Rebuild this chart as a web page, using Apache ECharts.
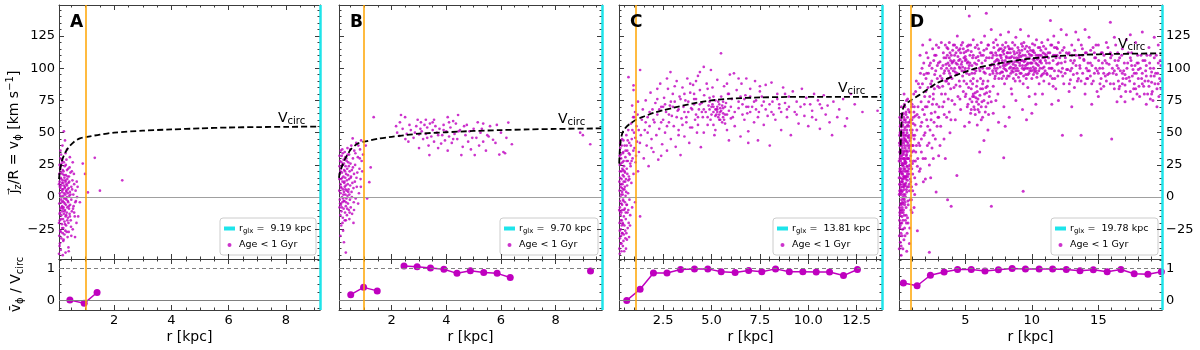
<!DOCTYPE html>
<html>
<head>
<meta charset="utf-8">
<script src="https://cdn.jsdelivr.net/npm/echarts@6/dist/echarts.min.js"></script>
<style>
  html, body { margin: 0; background: #fff; }
  #chart { width: 1200px; height: 350px; }
</style>
</head>
<body>
<div id="chart"></div>
<script>
// ---- stars younger than 1 Gyr: [r (kpc), jz/R (km/s)] ----
const starsA = [
  [0.08,-5],[0.09,12],[0.1,-18],[0.1,3],[0.11,22],[0.12,-9],[0.12,7],[0.13,-27],[0.13,15],[0.14,-2],[0.15,9],[0.15,-14],[0.16,26],[0.16,0],
  [0.17,-21],[0.17,11],[0.18,-7],[0.18,4],[0.19,18],[0.19,-11],[0.2,-3],[0.2,13],[0.21,-17],[0.21,6],[0.22,-24],[0.22,1],[0.23,20],[0.23,-8],
  [0.24,9],[0.24,-13],[0.25,3],[0.25,-1],[0.26,15],[0.26,-19],[0.27,-5],[0.27,24],[0.28,8],[0.28,-10],[0.29,2],[0.3,-15],[0.3,12],[0.31,-6],
  [0.31,17],[0.32,-22],[0.32,5],[0.33,-2],[0.33,10],[0.34,-12],[0.35,21],[0.35,0],[0.36,-8],[0.36,14],[0.37,6],[0.38,-16],[0.38,3],[0.39,-4],
  [0.4,11],[0.4,-20],[0.41,7],[0.42,-9],[0.42,16],[0.43,1],[0.44,-13],[0.45,4],[0.46,-6],[0.47,19],[0.48,-18],[0.5,8],[0.5,-2],[0.52,-11],
  [0.54,13],[0.55,-25],[0.57,2],[0.58,-7],[0.6,10],[0.62,-15],[0.65,5],[0.68,-20],[0.7,0],[0.72,8],
  [0.07,10],[0.08,-30],[0.09,25],[0.1,-36],[0.11,-12],[0.12,30],[0.13,-41],[0.14,19],[0.15,-32],[0.16,-8],[0.18,28],[0.2,-28],[0.22,-34],
  [0.24,27],[0.26,-29],[0.29,-26],[0.3,34],[0.33,29],[0.37,-31],[0.41,-27],[0.44,23],[0.49,-23],
  [0.24,51],[0.28,44],[2.28,13],[1.32,30.5],[1.5,5],[1.08,3.6],[0.9,26],[0.55,27],[0.63,-31],[0.4,-39],[0.41,-42],[0.07,-44],[0.74,-15],
  [0.8,-4],[0.98,18],[0.2,-45],[0.3,-43],[0.6,-12],[0.52,20],[0.66,-3],[0.45,31],[0.35,37],[0.19,40],[0.12,36],
  [0.07,-20],[0.08,18],[0.09,-13],[0.1,8],[0.11,-26],[0.12,1],[0.13,24],[0.14,-17],[0.15,14],[0.16,-4],[0.17,29],[0.18,-24],[0.19,6],
  [0.2,21],[0.21,-9],[0.22,11],[0.23,-33],[0.24,-4],[0.25,17],[0.26,-11],[0.27,7],[0.28,-21],[0.29,13],[0.3,-1],[0.31,25],[0.32,-14],
  [0.33,4],[0.34,-27],[0.35,9],[0.36,-18],[0.37,16],[0.38,-3],[0.39,22],[0.41,-7],[0.43,12],[0.45,-15],[0.47,2],[0.5,-30],[0.53,6],
  [0.56,-9],[0.59,18],[0.64,-4],[0.69,12],[0.09,-38],[0.14,33]
];
const starsB = [
  [0.08,5],[0.09,-8],[0.1,18],[0.1,-2],[0.11,28],[0.12,10],[0.12,-14],[0.13,3],[0.14,22],[0.14,-6],[0.15,14],[0.16,-11],[0.16,7],[0.17,32],
  [0.18,0],[0.18,19],[0.19,-4],[0.2,12],[0.2,25],[0.21,-16],[0.22,6],[0.22,-1],[0.23,16],[0.24,29],[0.24,-9],[0.25,4],[0.26,21],[0.26,11],
  [0.27,-3],[0.28,8],[0.28,35],[0.29,-12],[0.3,15],[0.3,2],[0.31,24],[0.32,-7],[0.32,9],[0.33,18],[0.34,-1],[0.34,30],[0.35,5],[0.36,13],
  [0.36,-14],[0.37,22],[0.38,1],[0.38,38],[0.39,10],[0.4,-5],[0.4,17],[0.41,27],[0.42,6],[0.43,-10],[0.44,14],[0.44,33],[0.45,2],[0.46,20],
  [0.47,-2],[0.48,9],[0.49,26],[0.5,-8],[0.5,15],[0.52,40],[0.53,4],[0.54,21],[0.55,-13],[0.56,11],[0.57,45.5],[0.58,30],[0.6,7],[0.61,-4],
  [0.62,18],[0.63,36],[0.65,12],[0.66,25],[0.68,-1],[0.7,42],[0.72,8],[0.74,19],[0.76,31],[0.78,40],[0.8,3],[0.82,22],[0.84,37],[0.86,14],
  [0.88,44],[0.9,28],[0.32,-18],[0.32,-43],[0.12,-30],[0.15,-22],[0.22,-26],[0.45,-17],[0.6,-20],[0.25,-35],[0.09,32],[0.19,37],
  [0.08,14],[0.09,24],[0.11,-5],[0.12,20],[0.13,36],[0.14,8],[0.16,27],[0.17,-8],[0.19,15],[0.2,-20],[0.21,34],[0.23,2],[0.24,-3],
  [0.25,26],[0.27,12],[0.28,-18],[0.29,20],[0.3,31],[0.31,6],[0.33,-4],[0.35,28],[0.37,-9],[0.39,33],[0.41,4],[0.43,24],[0.46,-12],
  [0.48,37],[0.51,16],[0.54,0],[0.58,23],[0.62,-10],[0.67,34],[0.71,15],[0.77,-5],[0.83,30],[0.87,8],[0.92,20],
  [1.34,62],[1.23,23],[1.18,11.6],[1.1,-1],[1.05,40],[0.95,33],
  [2.34,63.7],[2.49,62],[2.16,55],[2.28,47.5],[2.61,43],[3.0,48.6],[3.07,58],[3.38,32.6],[3.81,41.5],[4.43,63.7],[4.55,32.6],[5.04,32.6],
  [5.35,57],[5.35,43],[5.71,44.5],[5.94,33],[6.09,35],[6.27,57.8],[6.4,41],[8.9,50],[9.0,48],[9.27,41],
  [2.2,50],[2.4,53],[2.55,49],[2.7,52],[2.8,46],[2.9,55],[3.1,51],[3.15,45],[3.2,56],[3.25,49],[3.3,54],[3.35,40],[3.4,57],[3.45,47],
  [3.5,52],[3.55,43],[3.6,55],[3.65,50],[3.7,38],[3.75,53],[3.85,48],[3.9,56],[3.95,44],[4.0,51],[4.05,36],[4.1,47],[4.15,54],[4.2,42],
  [4.3,49],[4.35,57],[4.4,45],[4.5,52],[4.6,39],[4.65,55],[4.7,48],[4.8,43],[4.85,51],[4.9,37],[5.0,53],[5.1,46],[5.2,40],[5.25,50],
  [5.45,36],[5.5,48],[5.6,55],[5.8,42],[6.0,50],[6.15,34],[3.55,60],[3.0,38],[2.95,60],[4.25,59],[5.15,58],
  [2.3,58],[2.5,45],[2.65,56],[2.85,50],[3.05,53],[3.3,46],[3.5,58],[3.7,48],[3.9,52],[4.1,58],[4.25,45],[4.45,51],[4.75,56],[4.95,46],
  [5.3,53],[5.55,47],[5.85,56],[6.2,46],[4.05,62],[3.25,60]
];
const starsC = [
  [0.24,-40],[0.25,-20],[0.25,5],[0.26,25],[0.27,-32],[0.27,-8],[0.28,15],[0.29,38],[0.3,-14],[0.3,0],[0.31,-25],[0.32,10],[0.33,30],
  [0.34,-5],[0.35,-36],[0.35,20],[0.36,-18],[0.37,7],[0.38,45],[0.39,-10],[0.4,27],[0.4,-28],[0.41,2],[0.42,17],[0.43,-21],[0.44,35],
  [0.45,-3],[0.46,12],[0.47,-15],[0.48,24],[0.49,-42],[0.5,6],[0.51,40],[0.52,-9],[0.53,19],[0.54,-26],[0.55,31],[0.56,1],[0.57,-17],
  [0.58,14],[0.6,48],[0.61,-6],[0.62,22],[0.63,-33],[0.64,9],[0.65,36],[0.66,-12],[0.68,28],[0.69,3],[0.7,52],[0.72,-20],[0.73,16],
  [0.75,42],[0.76,-2],[0.78,33],[0.8,-14],[0.82,24],[0.84,57],[0.86,11],[0.88,45],[0.9,-8],[0.92,30],[0.95,62],[0.97,18],[1.0,50],
  [1.02,38],[1.05,-4],[1.08,27],[1.12,55],[1.15,43],[1.2,20],[1.25,35],[1.31,-15],[1.35,48],[1.4,60],
  [0.26,-44],[0.28,-11],[0.31,33],[0.33,-30],[0.36,-22],[0.38,4],[0.42,-38],[0.44,21],[0.47,-29],[0.52,8],[0.58,-40],[0.62,40],
  [0.67,-24],[0.7,13],[0.74,-31],[0.8,26],[0.71,93],[0.97,86.6],[0.97,83],[1.31,98.6],[1.05,66],[0.9,71],[1.2,74],[1.45,68],
  [0.23,-10],[0.24,12],[0.25,32],[0.26,-26],[0.27,20],[0.28,-3],[0.29,-36],[0.3,8],[0.31,-18],[0.32,26],[0.33,2],[0.34,-12],[0.35,14],
  [0.36,40],[0.37,-28],[0.38,-6],[0.39,22],[0.4,10],[0.41,-20],[0.42,34],[0.43,-2],[0.44,6],[0.45,-34],[0.46,28],[0.47,16],[0.48,-10],
  [0.5,-22],[0.51,20],[0.53,-4],[0.54,12],[0.56,36],[0.57,-12],[0.59,4],[0.61,28],[0.63,-6],[0.65,18],[0.67,44],[0.7,-10],[0.73,34],
  [0.76,14],[0.79,-22],[0.83,40],[0.87,28],[0.91,52],[0.96,36],[1.01,62],[1.06,46],[1.1,32],[1.18,64],[1.24,52],
  [0.55,-32],[0.45,44],[0.6,-28],[0.35,-42],[0.28,42],[1.3,42],[1.7,50],
  [1.5,30],[1.55,52],[1.6,75],[1.65,40],[1.7,62],[1.75,24],[1.8,55],[1.85,81],[1.9,45],[1.95,68],[2.0,35],[2.05,58],[2.1,73],[2.15,48],
  [2.2,64],[2.25,29],[2.3,53],[2.35,88],[2.4,70],[2.45,41],[2.5,60],
  [2.55,77],[2.6,50],[2.65,66],[2.7,36],[2.75,84],[2.8,58],[2.85,71],[2.88,97],[2.9,45],[2.95,63],[3.0,80],[3.05,55],[3.1,74],[3.15,39],
  [3.2,90],[3.25,67],[3.3,52],[3.35,78],[3.4,32.6],[3.45,61],[3.5,85],[3.55,70],[3.6,47],[3.65,75],[3.7,58],[3.75,92],[3.8,66],[3.85,42],
  [3.9,81],[3.95,69],[4.0,54],
  [4.05,87],[4.1,72],[4.1,80],[4.15,60],[4.2,76],[4.25,50],[4.3,94],[4.35,68],[4.4,83],[4.45,38.7],[4.5,73],[4.55,62],[4.6,101],[4.62,79],
  [4.7,66],[4.75,88],[4.8,56],[4.85,71],[4.9,77],[4.97,98.6],[5.0,64],[5.05,85],[5.1,70],[5.15,48],[5.2,75],[5.25,68],[5.3,91],[5.35,62],
  [5.4,72],[5.45,66],[5.49,111.5],[5.5,78],[5.55,58],[5.6,69],[5.65,86],[5.7,64],[5.75,73],[5.8,52],[5.85,80],[5.9,67],[5.95,95],[6.0,61],
  [5.1,66],[5.2,63],[5.3,70],[5.4,64],[5.5,67],[5.6,62],[5.3,68],[5.45,60],[4.9,68],[5.05,72],
  [6.05,76],[6.16,96],[6.2,55],[6.3,83],[6.4,69],[6.5,47],[6.55,88],[6.6,72],[6.7,60],[6.75,79],[6.8,92],[6.85,65],[6.9,51],[7.0,84],
  [7.1,70],[7.2,58],[7.25,90],[7.3,75],[7.4,44],[7.45,66],[7.5,82],[7.6,71],[7.7,56],[7.8,87],[7.9,63],[8.01,40],[8.1,88.8],[8.15,74],
  [8.3,60],[8.4,80],[8.5,69],[8.6,52],[8.7,85],[8.8,73],[8.9,62],[9.0,78],[9.1,48],[9.2,82],[9.3,66],[9.4,74],[9.5,57],[9.6,70],[9.67,84],
  [9.8,63],[9.9,77],[10.0,55],[10.1,72],[10.2,67],[10.3,80],[10.4,60],[10.5,75],[10.6,53],[10.7,69],[10.8,79],[10.9,64],[11.0,71],
  [11.1,58],[11.23,48],[11.3,74],[11.5,62],[11.6,68],[11.8,76],[12.0,61],[12.4,72],[12.8,66],[13.58,67],[12.2,80],[11.9,55],
  [1.6,58],[1.8,66],[2.0,60],[2.2,76],[2.4,58],[2.6,72],[2.8,64],[3.0,70],[3.2,62],[3.4,76],[3.6,66],[3.8,74],[4.0,68],[4.2,64],[4.4,72],
  [4.6,68],[4.8,62],[5.0,70],[5.2,68],[5.4,60],[5.6,74],[5.8,64],[6.0,70],[6.2,66],[6.4,74],[6.6,64],[6.8,70],[7.0,66],[7.2,74],[7.4,62],
  [7.6,78],[7.8,68],[8.0,72],[8.2,64],[8.4,76],[8.6,66],[8.8,80],[9.0,70],[9.4,64],[9.8,72],[10.2,62],[10.6,72],[3.1,86],[3.6,80],
  [4.2,90],[4.8,84],[5.8,88],[6.4,92],[7.0,78],[2.2,84],[2.7,92],[3.3,48],[4.6,50],[5.9,44],[6.9,42],[1.9,38],[2.4,32],[3.9,54],[4.3,56],
  [5.1,56],[5.7,57],[5.2,52],[4.95,60],[5.35,74],[5.55,71],[5.6,65],[5.25,64],[5.45,69],[5.65,60],
  [2.5,70],[2.9,74],[3.3,68],[3.7,62],[4.1,76],[4.5,66],[4.9,74],[5.3,66],[5.7,70],[6.1,62],[6.5,78],[6.9,70],[7.3,68],[7.7,74],[8.1,66],
  [8.5,72],[8.9,68],[3.5,56],[4.3,62],[5.1,78],[5.9,80],[6.7,76],[7.5,86],[3.9,88],[4.4,97],[2.7,55],[2.3,68]
];
const starsD = [
  [0.05,-30],[0.06,10],[0.07,35],[0.08,-12],[0.09,22],[0.1,50],[0.1,3],[0.11,-22],[0.12,15],[0.13,40],[0.14,-5],[0.15,28],[0.16,60],
  [0.17,8],[0.18,-38],[0.19,19],[0.2,45],[0.21,-2],[0.22,32],[0.23,12],[0.24,-15],[0.25,55],[0.26,25],[0.27,5],[0.28,38],[0.29,-25],
  [0.3,18],[0.31,48],[0.32,0],[0.33,30],[0.34,65],[0.35,10],[0.36,-10],[0.37,42],[0.38,22],[0.39,-33],[0.4,6],[0.41,35],[0.42,52],
  [0.43,15],[0.44,-6],[0.45,28],[0.46,70],[0.47,2],[0.48,45],[0.49,20],[0.5,-18],[0.51,36],[0.52,58],[0.53,11],[0.54,27],[0.55,-8],
  [0.56,48],[0.57,16],[0.58,75],[0.59,33],[0.6,4],[0.61,55],[0.62,24],[0.63,-28],[0.64,40],[0.65,13],[0.66,62],[0.67,30],[0.68,-3],
  [0.69,47],[0.7,20],[0.72,68],[0.74,8],[0.76,38],[0.78,55],[0.8,-36],[0.82,25],[0.84,44],[0.86,14],[0.88,60],[0.9,32],[0.92,-10],
  [0.95,50],[0.98,22],[1.0,72],[1.02,40],[1.05,5],[1.08,57],[1.1,28],[1.13,80],[1.16,45],[1.2,15],[1.24,63],[1.28,35],[1.32,90],
  [1.36,52],[1.4,24],[1.45,70],[1.5,42],
  [0.04,-40],[0.08,62],[0.12,-35],[0.15,5],[0.2,70],[0.23,-20],[0.27,50],[0.3,-5],[0.33,14],[0.36,33],[0.4,80],[0.44,-24],[0.48,9],
  [0.52,26],[0.56,-14],[0.6,43],[0.64,18],[0.7,-20],[0.75,30],[0.8,5],[0.85,66],[0.9,12],[0.95,-2],[1.0,35],[1.05,18],[1.1,62],
  [1.15,-8],[1.2,48],[1.25,28],[1.3,10],[0.18,-45],[0.6,-42],[0.25,-30],
  [0.03,15],[0.05,42],[0.06,-18],[0.07,5],[0.09,30],[0.11,55],[0.13,-10],[0.14,20],[0.16,36],[0.17,-28],[0.19,2],[0.21,64],[0.22,18],
  [0.24,40],[0.26,-8],[0.28,12],[0.29,58],[0.31,26],[0.32,-18],[0.34,44],[0.35,-1],[0.37,16],[0.38,62],[0.39,8],[0.41,-14],[0.42,30],
  [0.43,72],[0.45,48],[0.46,-4],[0.47,22],[0.49,38],[0.5,60],[0.51,0],[0.53,44],[0.54,14],[0.55,66],[0.57,32],[0.58,-20],[0.6,20],
  [0.62,50],[0.63,8],[0.65,35],[0.67,76],[0.68,16],[0.7,42],[0.71,-6],[0.73,58],[0.75,22],[0.77,48],[0.79,10],[0.81,66],[0.83,36],
  [0.85,-2],[0.87,52],[0.89,24],[0.91,74],[0.93,40],[0.96,8],[0.99,60],[1.03,26],[1.07,48],[1.12,36],[1.17,70],[1.22,56],[1.27,82],
  [1.33,40],[1.38,64],[1.43,30],[1.48,88],[0.08,-24],[0.2,-12],[0.31,-40],[0.47,-30],[0.66,-16],[0.83,-24],[1.0,-12],[1.2,2],[1.4,-26],
  [0.03,28],[0.04,2],[0.06,48],[0.07,-8],[0.08,20],[0.09,40],[0.1,-14],[0.11,10],[0.12,32],[0.13,56],[0.14,6],[0.15,-20],[0.16,22],
  [0.17,44],[0.18,12],[0.19,-6],[0.2,30],[0.21,52],[0.22,-10],[0.23,26],[0.24,4],[0.25,42],[0.26,14],[0.27,64],[0.28,-4],[0.29,34],
  [0.3,8],[0.31,56],[0.32,20],[0.33,-12],[0.34,36],[0.35,24],[0.36,50],[0.37,2],[0.38,30],[0.39,46],[0.4,16],[0.41,60],[0.42,-2],
  [0.43,26],[0.44,40],[0.45,10],[0.46,54],[0.48,28],[0.5,44],[0.52,16],[0.54,64],[0.56,30],[0.58,6],[0.6,52],[0.62,36],[0.65,24],
  [0.68,56],[0.71,30],[0.74,46],[0.77,18],[0.8,40],[0.84,58],[0.88,28],[0.92,46],[0.97,70],[1.02,52],[1.08,40],[1.14,66],
  [1.55,20],[1.6,85],[1.65,55],[1.7,35],[1.75,100],[1.8,68],[1.85,12],[1.9,48],[1.95,78],[2.0,30],[2.05,92],[2.1,60],[2.15,40],
  [2.2,108],[2.25,74],[2.3,-42.7],[2.3,25],[2.35,52],[2.4,88],[2.45,65],[2.5,38],[2.55,115],[2.6,80],[2.65,58],[2.7,95],[2.75,45],
  [2.81,4],[2.85,72],[2.9,102],[2.95,62],[3.0,32],[1.6,110],[1.9,95],[2.2,85],[2.5,100],[2.8,110],[1.7,45],[2.0,70],[2.4,15],
  [1.52,62],[1.58,40],[1.63,96],[1.68,74],[1.73,58],[1.78,88],[1.83,30],[1.88,104],[1.93,64],[1.98,50],[2.03,82],[2.08,112],[2.13,70],
  [2.18,55],[2.23,96],[2.28,42],[2.33,78],[2.38,104],[2.43,60],[2.48,90],[2.53,72],[2.58,48],[2.63,106],[2.68,84],[2.73,66],[2.78,98],
  [2.83,118],[2.88,55],[2.93,86],[2.98,104],[3.03,70],[3.12,94],[3.22,80],[3.32,102],[3.42,64],[3.52,90],[3.62,116],[3.72,76],[3.82,96],
  [3.92,60],[1.62,22],[2.0,14],[2.6,30],[3.1,40],[3.5,30],[1.8,118],[2.35,122],
  [3.05,85],[3.1,105],[3.15,55],[3.2,120],[3.25,92],[3.3,70],[3.35,112],[3.4,45],[3.45,98],[3.5,80],[3.55,108],[3.6,62],[3.67,-2.1],
  [3.7,115],[3.75,88],[3.8,102],[3.85,50],[3.94,-7],[3.9,94],[3.95,110],[4.0,75],[4.05,105],[4.1,118],[4.15,85],[4.2,100],[4.25,60],
  [4.3,112],[4.37,16.8],[4.35,95],[4.4,125],[4.45,78],[4.5,106],[4.55,90],[4.6,115],[4.65,68],[4.7,103],[4.75,98],[4.8,120],[4.85,82],
  [4.9,108],[4.95,55],[5.0,100],[5.05,113],[5.1,88],[5.15,104],[5.2,72],[5.25,118],[5.3,140.5],[5.3,95],[5.35,110],[5.4,65],[5.45,84],
  [5.5,102],[5.55,78],[5.6,122],[5.65,70],[5.7,96],[5.75,81],[5.8,108],[5.85,74],[5.9,90],[5.95,68],[6.0,115],
  [3.6,100],[3.8,108],[4.0,104],[4.2,110],[4.4,103],[4.6,107],[4.8,101],[5.0,109],[5.2,105],[3.4,96],[3.7,92],
  [3.55,103],[3.65,110],[3.75,98],[3.85,112],[3.95,100],[4.05,114],[4.15,106],[4.25,97],[4.35,116],[4.45,109],[4.55,101],[4.65,112],
  [4.75,105],[4.85,115],[4.95,98],[5.05,107],[5.15,117],[5.25,100],[5.35,104],[5.45,113],[5.55,108],[5.65,99],[5.75,116],[5.85,103],
  [5.95,109],[4.3,87],[4.9,90],[3.9,84],[5.6,92],[4.6,76],
  [2.1,96],[2.3,102],[2.5,86],[2.7,110],[2.9,92],[3.0,116],[3.2,100],[3.3,86],[3.4,108],[3.5,118],[3.6,90],[3.7,104],[3.8,120],[3.9,106],
  [4.0,92],[4.1,98],[4.2,118],[4.3,104],[4.4,96],[4.5,114],[4.6,100],[4.7,118],[4.8,94],[4.9,112],[5.0,106],[5.1,96],[5.2,114],[5.3,102],
  [5.4,118],[5.5,96],[5.6,110],[5.7,104],[5.8,98],[5.9,118],[6.0,106],[6.1,98],[6.2,110],[6.3,100],[6.4,114],[6.5,96],[6.6,108],
  [6.7,118],[6.8,100],[6.9,112],[2.6,76],[3.0,62],[3.4,74],[3.8,66],[4.2,72],[4.6,86],[5.0,78],[5.4,90],
  [5.5,74],[5.6,80],[5.7,68],[5.8,77],[5.9,82],[6.0,72],[6.1,79],[6.2,70],[6.3,84],[6.4,75],[6.5,66],[6.6,81],[6.7,73],[6.8,78],[6.08,35],
  [5.05,80],[5.15,70],[5.25,85],[5.35,76],[5.45,68],[5.55,88],[5.65,78],[5.75,64],[5.85,86],[5.95,76],[6.05,66],[6.15,84],[6.25,74],
  [6.35,90],[6.45,80],[6.55,70],[6.65,86],[6.75,64],[6.85,82],[6.95,74],[5.3,58],[5.9,56],[6.3,62],
  [6.05,100],[6.1,112],[6.15,92],[6.2,120],[6.25,104],[6.3,88],[6.35,110],[6.4,97],[6.45,125],[6.5,106],[6.55,85],[6.6,115],[6.65,100],
  [6.7,90],[6.75,118],[6.8,108],[6.85,95],[6.9,102],[6.96,-7],[6.95,130],[7.0,112],[7.05,98],[7.1,86],[7.15,116],[7.2,105],[7.25,94],
  [7.3,122],[7.35,110],[7.4,100],[7.45,80],[7.5,114],[7.55,104],[7.6,96],[7.65,126],[7.7,108],[7.75,92],[7.8,118],[7.85,102],[7.89,30.6],
  [7.9,111],[7.95,88],[8.0,106],[8.05,120],[8.1,98],[8.15,112],[8.2,104],[8.25,128],[8.3,94],[8.35,115],[8.4,101],[8.45,84],[8.5,109],
  [8.55,120],[8.6,97],[8.65,113],[8.7,105],[8.75,90],[8.8,124],[8.85,108],[8.9,100],[8.95,116],[9.0,93],[9.05,110],[9.1,102],[9.15,130],
  [9.2,96],[9.25,114],[9.3,106],[9.35,4.6],[9.35,88],[9.4,120],[9.45,100],[9.5,110],[9.55,95],[9.6,117],[9.65,103],[9.7,85],[9.75,125],
  [9.8,108],[9.85,98],[9.9,114],[9.95,104],[10.0,92],[10.05,119],[10.1,107],[10.15,99],[10.2,112],[10.25,80],[10.3,104],[10.35,122],
  [10.4,96],[10.45,110],[10.5,102],[10.55,88],[10.6,116],[10.65,106],[10.7,94],[10.75,120],[10.8,100],[10.85,112],[10.9,90],[10.95,108],
  [11.0,98],
  [7.2,100],[7.6,110],[8.0,102],[8.4,108],[8.8,98],[9.2,106],[9.6,100],[10.0,110],[10.4,103],[7.4,107],[7.8,97],[8.2,112],[8.6,103],
  [9.0,108],[9.4,99],[9.8,111],[10.2,97],[10.6,105],[8.1,92],[9.1,90],[8.3,115],[9.3,117],[7.0,103],[7.9,114],[8.7,111],[9.7,95],[10.1,101],
  [7.02,108],[7.08,96],[7.12,120],[7.18,102],[7.22,92],[7.28,112],[7.32,106],[7.38,96],[7.42,118],[7.48,103],[7.52,92],[7.58,115],
  [7.62,101],[7.68,110],[7.72,97],[7.78,106],[7.82,113],[7.88,94],[7.92,104],[7.98,116],[8.02,99],[8.08,109],[8.12,103],[8.18,94],
  [8.22,117],[8.28,108],[8.32,100],[8.38,112],[8.42,96],[8.48,105],[8.52,115],[8.58,100],[8.62,92],[8.68,108],[8.72,118],[8.78,102],
  [8.82,95],[8.88,112],[8.92,105],[8.98,98],[9.02,114],[9.08,104],[9.12,96],[9.18,109],[9.22,119],[9.28,100],[9.32,110],[9.38,94],
  [9.42,105],[9.48,115],[9.52,102],[9.58,92],[9.62,108],[9.68,113],[9.72,100],[9.78,96],[9.82,116],[9.88,104],[9.92,110],[9.98,98],
  [10.02,104],[10.08,113],[10.12,95],[10.18,106],[10.22,118],[10.28,100],[10.32,110],[10.38,93],[10.42,107],[10.48,116],[10.52,98],
  [10.58,110],[10.62,100],[10.68,114],[10.72,104],[10.78,95],[10.82,108],[10.88,117],[10.92,101],[10.98,111],
  [7.1,110],[7.3,98],[7.5,106],[7.7,115],[7.9,100],[8.1,108],[8.3,104],[8.5,98],[8.7,100],[8.9,106],[9.1,112],[9.3,102],[9.5,106],
  [9.7,104],[9.9,100],[10.1,114],[10.3,98],[10.5,108],[10.7,110],[10.9,96],
  [6.2,60],[6.7,52],[7.1,65],[7.5,58],[7.9,70],[8.3,62],[8.8,75],[9.3,68],[9.8,78],[10.3,72],[10.8,80],[6.4,44],[8.0,55],[9.6,60],
  [7.3,75],[8.5,80],[10.0,65],
  [11.05,115],[11.1,104],[11.15,95],[11.2,122],[11.25,108],[11.3,88],[11.35,112],[11.4,137],[11.45,100],[11.5,118],[11.55,92],[11.6,106],
  [11.65,125],[11.7,98],[11.75,110],[11.8,84],[11.85,116],[11.9,103],[11.95,94],[12.0,120],[12.1,108],[12.2,97],[12.3,48],[12.3,114],
  [12.4,88],[12.5,105],[12.6,126],[12.7,99],[12.8,112],[12.9,91],[13.0,118],[13.1,104],[13.2,85],[13.3,110],[13.4,96],[13.5,122],
  [13.6,102],[13.7,48],[13.7,90],[13.8,115],[13.9,107],[14.0,80],[14.1,112],[14.2,98],[14.3,124],[14.4,104],[14.5,88],[14.6,116],
  [14.7,96],[14.8,108],[14.9,82],[15.0,118],[15.1,100],[15.2,92],[15.3,112],[15.4,86],[15.5,106],[15.6,120],[15.7,95],[15.8,103],
  [15.9,135.6],[15.9,88],
  [11.3,100],[11.9,110],[12.5,96],[13.0,100],[13.6,108],[14.2,92],[14.8,100],[15.4,96],[12.2,130],[13.3,128],[14.0,130],[12.0,75],
  [13.0,70],[14.5,72],[15.0,78],[11.5,72],
  [11.02,106],[11.12,96],[11.22,112],[11.32,104],[11.42,118],[11.52,100],[11.62,110],[11.72,92],[11.82,108],[11.92,115],[12.02,98],
  [12.12,112],[12.22,104],[12.32,94],[12.42,116],[12.52,108],[12.62,99],[12.72,111],[12.82,88],[12.92,106],[13.02,110],[13.12,95],
  [13.22,114],[13.32,102],[13.42,90],[13.52,110],[13.62,100],[13.72,118],[13.82,96],[13.92,106],[14.02,112],[14.12,92],[14.22,104],
  [14.32,98],[14.42,114],[14.52,102],[14.62,90],[14.72,108],[14.82,118],[14.92,98],[15.02,106],[15.12,88],[15.22,112],[15.32,100],
  [15.42,110],[15.52,94],[15.62,104],[15.72,116],[15.82,96],[15.92,108],
  [11.1,110],[11.4,94],[11.7,116],[12.0,104],[12.3,100],[12.6,112],[12.9,98],[13.2,106],[13.5,92],[13.8,110],[14.1,100],[14.4,94],
  [14.7,112],[15.0,96],[15.3,104],[15.6,90],[15.9,112],[11.6,86],[12.8,82],[14.0,88],[15.2,84],
  [16.0,45],[16.0,110],[16.1,96],[16.2,84],[16.3,118],[16.4,102],[16.5,90],[16.6,108],[16.7,78],[16.8,115],[16.9,98],[17.0,87],[17.1,122],
  [17.2,104],[17.3,93],[17.4,82],[17.5,112],[17.6,99],[17.7,88],[17.8,120],[17.9,104],[18.0,92],[18.1,78],[18.2,110],[18.3,128],[18.3,96],
  [18.4,86],[18.5,106],[18.6,94],[18.7,80],[18.8,116],[18.9,100],[19.0,89],[19.1,75],[19.2,108],[19.3,96],[19.4,84],[19.5,118],[19.6,92],
  [19.7,102],
  [16.5,100],[17.0,95],[17.5,102],[18.0,99],[18.5,90],[19.0,97],[19.5,88],[16.8,88],[17.8,84],[18.8,86],[16.2,124],[17.4,126],[19.2,124],
  [18.9,76],[17.0,74],[6.58,142.6],
  [16.05,100],[16.15,88],[16.25,106],[16.35,95],[16.45,112],[16.55,84],[16.65,98],[16.75,110],[16.85,92],[16.95,104],[17.05,82],
  [17.15,100],[17.25,112],[17.35,90],[17.45,106],[17.55,94],[17.65,84],[17.75,102],[17.85,96],[17.95,110],[18.05,86],[18.15,100],
  [18.25,92],[18.35,106],[18.45,80],[18.55,98],[18.65,110],[18.75,90],[18.85,104],[18.95,94],[19.05,82],[19.15,100],[19.25,88],
  [19.35,110],[19.45,96],[19.55,78],[19.65,106],[19.72,90],[17.6,76],[18.6,72],[19.4,70],[16.4,74],
  [16.2,98],[16.5,106],[16.8,96],[17.1,92],[17.4,108],[17.7,96],[18.0,104],[18.3,88],[18.6,102],[18.9,110],[19.2,94],[19.5,104],
  [19.7,84],[16.6,86],[17.9,80],[19.0,80]
];

// ---- circular velocity curves: [r, Vcirc] ----
const vcircA = [[0.07,14],[0.1,20],[0.15,26],[0.2,30],[0.3,35],[0.4,38.5],[0.6,43],[0.8,45.5],[1,46.5],[1.5,48.5],[2,50],[3,51.5],[4,52.5],[5,53.3],[6,54],[7,54.3],[8,54.5],[9.19,54.7]];
const vcircB = [[0.07,15],[0.1,19],[0.2,25],[0.3,30],[0.4,33.5],[0.5,37],[0.75,41.5],[1,43],[1.5,45.3],[2,46.8],[3,49.2],[4,50.3],[5,51.3],[6,52],[7,52.5],[8,52.9],[9.7,53.3]];
const vcircC = [[0.23,26],[0.26,36],[0.3,43],[0.36,48],[0.45,51.5],[0.6,54.5],[0.8,57],[1.1,60],[1.5,62.5],[2,65.3],[2.5,67.4],[3,69.2],[4,72.5],[5,75],[6,76.4],[7.5,77.3],[9,77.7],[11,77.8],[13.81,77.8]];
const vcircD = [[0.12,33],[0.16,45],[0.2,57],[0.25,65],[0.35,69.5],[0.5,72],[0.9,75],[1.6,79.5],[2.8,88],[4,93.3],[5,97.2],[6,100.5],[7.5,103.7],[9,106.3],[10,107.6],[12,109.4],[14,110.4],[16,111],[19.78,111.5]];

// ---- mean v_phi / Vcirc per radial bin (null = gap) ----
const ratioA = [[0.45,0.01],[0.95,-0.09],[1.4,0.25]];
const ratioB = [[0.5,0.18],[0.97,0.41],[1.47,0.30],[1.95,null],[2.45,1.08],[2.93,1.06],[3.42,1.02],[3.91,0.98],[4.39,0.85],[4.88,0.93],[5.37,0.88],[5.86,0.85],[6.34,0.72],[6.8,null],[9.28,0.92]];
const ratioC = [[0.62,0.0],[1.31,0.35],[2.0,0.86],[2.7,0.86],[3.4,0.97],[4.12,0.99],[4.81,0.99],[5.5,0.9],[6.22,0.88],[6.92,0.94],[7.6,0.9],[8.31,0.99],[9.02,0.9],[9.72,0.9],[10.41,0.89],[11.1,0.89],[11.82,0.78],[12.54,0.97]];
const ratioD = [[0.35,0.55],[1.38,0.46],[2.38,0.79],[3.41,0.89],[4.42,0.97],[5.45,0.97],[6.48,0.92],[7.49,0.96],[8.52,1.0],[9.52,0.99],[10.55,0.99],[11.56,0.99],[12.59,0.97],[13.62,0.93],[14.62,0.96],[15.66,0.9],[16.69,0.97],[17.69,0.84],[18.72,0.82],[19.73,0.9]];

// galaxy radius and inner reference radius per panel
const rGlx = [9.19, 9.70, 13.81, 19.78];
const rInner = [1.0, 0.98, 1.08, 0.9];
const xTicks = [[2,4,6,8],[2,4,6,8],[2.5,5,7.5,10,12.5],[5,10,15]];
const yTicksTop = [-25,0,25,50,75,100,125];
const yTicksBot = [0,1];

const FONT = 'DejaVu Sans';
const FRAME = '#3c3c3c';
const MAG = '#bf00bf';
const CYAN = '#1ee4ea';
const ORANGE = '#ffa500';

const fmtInt = v => String(v).replace('-', '\u2212');
const fmtOne = v => v.toFixed(1);

const panels = [
  { tag: 'A', left: 59,  width: 261, xmin: 0.07, minor: 0.5, fmt: fmtInt, dot: 2.7, stars: starsA, vcirc: vcircA, ratio: ratioA, vlab: [278, 118], legW: 96 },
  { tag: 'B', left: 339, width: 263, xmin: 0.07, minor: 0.5, fmt: fmtInt, dot: 2.7, stars: starsB, vcirc: vcircB, ratio: ratioB, vlab: [558, 119], legW: 98 },
  { tag: 'C', left: 619, width: 263, xmin: 0.22, minor: 0.5, fmt: fmtOne, dot: 2.7, stars: starsC, vcirc: vcircC, ratio: ratioC, vlab: [838, 88],  legW: 105 },
  { tag: 'D', left: 899, width: 263, xmin: 0.02, minor: 1,   fmt: fmtInt, dot: 3,   stars: starsD, vcirc: vcircD, ratio: ratioD, vlab: [1118, 44], legW: 107 }
];

const TOP = 5, TOPH = 254, BOTH = 51;
const YT = [-48, 149], YB = [-0.3, 1.3];

// tick positions between min and max, minus the majors
function minorVals(min, max, step, majorStep) {
  const out = [];
  for (let k = Math.ceil(min / step); k * step <= max + 1e-9; k++) {
    const v = Math.round(k * step * 1000) / 1000;
    const q = v / majorStep;
    if (Math.abs(q - Math.round(q)) > 1e-6) out.push(v);
  }
  return out;
}

const richSub = {
  a: { fontFamily: FONT, fontSize: 14, lineHeight: 18, color: '#000' },
  s: { fontFamily: FONT, fontSize: 10, lineHeight: 8, verticalAlign: 'bottom', color: '#000' },
  u: { fontFamily: FONT, fontSize: 10, lineHeight: 6, verticalAlign: 'top', color: '#000' }
};

const grids = [], xAxes = [], yAxes = [], series = [], graphics = [];

// push a major axis and a minor-tick axis on each given side; returns index of first one
function addAxes(list, gi, min, max, sides, majors, minors, labelSide, fmt, extra) {
  const first = list.length;
  sides.forEach(side => {
    const major = {
      type: 'value', gridIndex: gi, min: min, max: max, position: side,
      axisLine: { show: true, onZero: false, lineStyle: { color: FRAME, width: 1 } },
      axisTick: { show: true, inside: true, length: 5, customValues: majors, lineStyle: { color: FRAME, width: 1 } },
      axisLabel: { show: side === labelSide, customValues: majors, formatter: fmt, margin: 4,
                   color: '#000', fontFamily: FONT, fontSize: 13 },
      splitLine: { show: false }
    };
    if (extra && side === extra.side) Object.assign(major, extra.opts);
    list.push(major);
    list.push({
      type: 'value', gridIndex: gi, min: min, max: max, position: side,
      axisLine: { show: false, onZero: false },
      axisTick: { show: true, inside: true, length: 2.5, customValues: minors, lineStyle: { color: FRAME, width: 1 } },
      axisLabel: { show: false }, splitLine: { show: false }
    });
  });
  return first;
}

panels.forEach((p, i) => {
  const xmax = rGlx[i];
  const gTop = grids.length;
  grids.push({ left: p.left, top: TOP, width: p.width, height: TOPH, outerBoundsMode: 'none' });
  const gBot = grids.length;
  grids.push({ left: p.left, top: TOP + TOPH, width: p.width, height: BOTH, outerBoundsMode: 'none' });

  const majStep = xTicks[i][1] - xTicks[i][0];
  const xMin = minorVals(p.xmin, xmax, p.minor, majStep);
  const ySide = i === 0 ? 'left' : (i === 3 ? 'right' : 'none');

  const xt = addAxes(xAxes, gTop, p.xmin, xmax, ['bottom', 'top'], xTicks[i], xMin, 'none', p.fmt);
  const xb = addAxes(xAxes, gBot, p.xmin, xmax, ['bottom', 'top'], xTicks[i], xMin, 'bottom', p.fmt, {
    side: 'bottom',
    opts: { name: 'r [kpc]', nameLocation: 'middle', nameGap: 20,
            nameTextStyle: { fontFamily: FONT, fontSize: 14, color: '#000' } }
  });

  const topExtra = i === 0 ? { side: 'left', opts: {
    name: '{a|j\u20D7}{s|z}{a|/R = v}{s|\u03D5}{a| [km s}{u|\u22121}{a|]}',
    nameLocation: 'middle', nameGap: 34, nameRotate: 90,
    nameTextStyle: { fontFamily: FONT, fontSize: 14, color: '#000', rich: richSub } } } : null;
  const botExtra = i === 0 ? { side: 'left', opts: {
    name: '{a|v\u0304}{s|\u03D5}{a| / V}{s|circ}',
    nameLocation: 'middle', nameGap: 34, nameRotate: 90,
    nameTextStyle: { fontFamily: FONT, fontSize: 14, color: '#000', rich: richSub } } } : null;

  const yt = addAxes(yAxes, gTop, YT[0], YT[1], ['left', 'right'], yTicksTop,
    minorVals(YT[0], YT[1], 5, 25), ySide, fmtInt, topExtra);
  const yb = addAxes(yAxes, gBot, YB[0], YB[1], ['left', 'right'], yTicksBot,
    minorVals(YB[0], YB[1], 0.25, 1), ySide, fmtInt, botExtra);

  const vLines = [
    { xAxis: rInner[i], lineStyle: { color: ORANGE, width: 1.5, type: 'solid' } },
    { xAxis: xmax, lineStyle: { color: CYAN, width: 2.5, type: 'solid' } }
  ];

  series.push({
    type: 'scatter', xAxisIndex: xt, yAxisIndex: yt, data: p.stars,
    symbol: 'circle', symbolSize: p.dot, itemStyle: { color: MAG }, z: 2, silent: true,
    markLine: { silent: true, symbol: 'none', label: { show: false }, animation: false,
      data: [{ yAxis: 0, lineStyle: { color: '#a0a0a0', width: 1, type: 'solid' } }] }
  });
  series.push({
    type: 'line', xAxisIndex: xt, yAxisIndex: yt, data: p.vcirc, smooth: 0.25,
    showSymbol: false, lineStyle: { color: '#000', width: 1.8, type: [6, 3] }, z: 4, silent: true,
    markLine: { silent: true, symbol: 'none', label: { show: false }, animation: false, data: vLines }
  });
  series.push({
    type: 'line', xAxisIndex: xb, yAxisIndex: yb, data: p.ratio, connectNulls: false,
    symbol: 'circle', symbolSize: 7, showAllSymbol: true,
    lineStyle: { color: MAG, width: 1.5 }, itemStyle: { color: MAG }, z: 4, silent: true,
    markLine: { silent: true, symbol: 'none', label: { show: false }, animation: false,
      data: [
        { yAxis: 1, lineStyle: { color: '#808080', width: 1, type: [4, 3] } },
        { yAxis: 0, lineStyle: { color: '#808080', width: 1, type: 'solid' } }
      ].concat(vLines) }
  });

  // panel letter
  graphics.push({ type: 'text', x: p.left + 11, y: 14, z: 10,
    style: { text: p.tag, font: 'bold 17px "DejaVu Sans"', fill: '#000', verticalAlign: 'top' } });
  // V_circ label
  graphics.push({ type: 'text', x: p.vlab[0], y: p.vlab[1], z: 10,
    style: { text: '{v|V}{s|circ}', verticalAlign: 'middle',
      rich: { v: { fontFamily: FONT, fontSize: 14, lineHeight: 16, fill: '#000' },
              s: { fontFamily: FONT, fontSize: 10, lineHeight: 6, verticalAlign: 'bottom', fill: '#000' } } } });
  // legend box
  const legRich = {
    a: { fontFamily: FONT, fontSize: 9.5, lineHeight: 12, fill: '#000' },
    s: { fontFamily: FONT, fontSize: 7, lineHeight: 5, verticalAlign: 'bottom', fill: '#000' }
  };
  graphics.push({ type: 'group', x: p.left + p.width - 4 - p.legW, y: 218, z: 10, children: [
    { type: 'rect', shape: { x: 0, y: 0, width: p.legW, height: 37, r: 3 },
      style: { fill: 'rgba(255,255,255,0.85)', stroke: '#cccccc', lineWidth: 1 } },
    { type: 'rect', shape: { x: 4, y: 8.5, width: 11, height: 4 }, style: { fill: CYAN } },
    { type: 'text', x: 19, y: 10.5, style: { text: '{a|r}{s|glx}{a| =  ' + rGlx[i].toFixed(2) + ' kpc}',
      verticalAlign: 'middle', rich: legRich } },
    { type: 'circle', shape: { cx: 9.5, cy: 27, r: 2 }, style: { fill: MAG, opacity: 0.8 } },
    { type: 'text', x: 19, y: 27, style: { text: '{a|Age < 1 Gyr}', verticalAlign: 'middle', rich: legRich } }
  ] });
});

const chart = echarts.init(document.getElementById('chart'));
chart.setOption({
  animation: false,
  backgroundColor: '#fff',
  grid: grids,
  xAxis: xAxes,
  yAxis: yAxes,
  series: series,
  graphic: graphics
});
</script>
</body>
</html>
